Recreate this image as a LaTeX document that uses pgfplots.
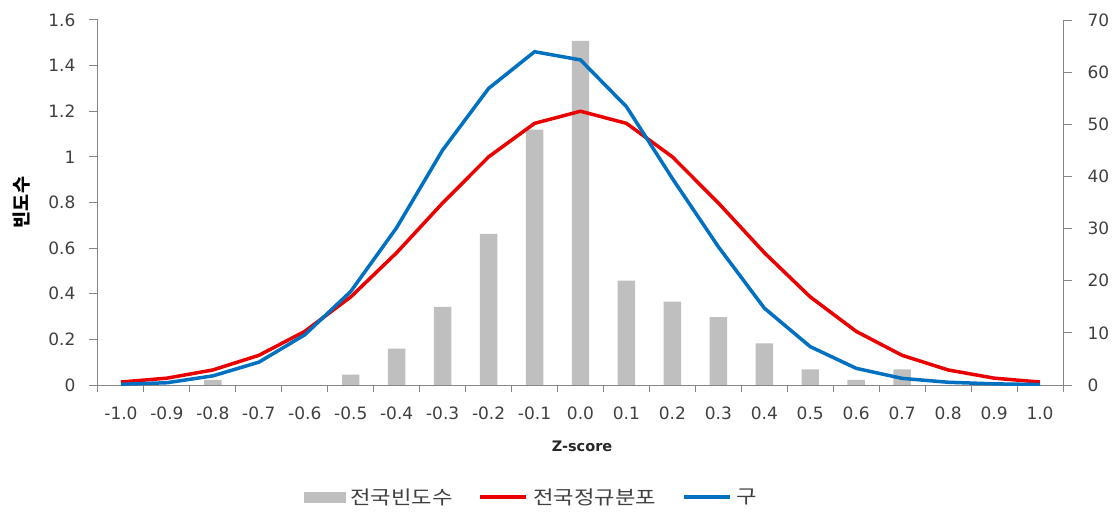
\documentclass[border=0pt]{standalone}
\usepackage{fontspec}
\setmainfont{DejaVu Sans}
\newfontfamily\kr{Noto Sans CJK KR}
\newfontfamily\krw[FakeStretch=1.17]{Noto Sans CJK KR}
\usepackage{pgfplots}
\pgfplotsset{compat=1.18}
\definecolor{barGray}{RGB}{191,191,191}
\definecolor{lineRed}{RGB}{235,0,0}
\definecolor{lineBlue}{RGB}{0,112,192}
\definecolor{axisGray}{RGB}{134,134,134}
\definecolor{txtGray}{RGB}{64,64,64}
\begin{document}
\begin{tikzpicture}
\path[use as bounding box] (-98pt,-132pt) rectangle (1019pt,385pt);
\pgfplotsset{
  common/.style={
    scale only axis, width=965pt, height=365pt,
    xmin=-0.5, xmax=20.5, enlargelimits=false,
    /pgf/number format/assume math mode=true,
    tick align=outside, major tick length=9pt,
    axis line style={draw=axisGray, line width=1pt, -},
    tick style={draw=axisGray, line width=1pt},
    ticklabel style={font=\fontsize{17}{20}\selectfont, text=txtGray},
  }
}
% bars: right axis (counts)
\begin{axis}[common,
  axis y line*=right, axis x line=none,
  ymin=0, ymax=70, ytick={0,10,...,70},
  yticklabel style={xshift=12pt},
]
\addplot[ybar, bar width=0.38, fill=barGray, draw=none] coordinates {
(0,0) (1,0) (2,1) (3,0) (4,0) (5,2) (6,7) (7,15) (8,29) (9,49) (10,66)
(11,20) (12,16) (13,13) (14,8) (15,3) (16,1) (17,3) (18,0) (19,0) (20,0)};
\end{axis}
% lines: left axis (density)
\begin{axis}[common,
  axis y line*=left, axis x line*=bottom,
  ymin=0, ymax=1.6, ytick={0,0.2,...,1.6},
  yticklabels={0,0.2,0.4,0.6,0.8,1,1.2,1.4,1.6},
  yticklabel style={xshift=-10pt},
  xtick={0,...,20},
  xticklabels={-1.0,-0.9,-0.8,-0.7,-0.6,-0.5,-0.4,-0.3,-0.2,-0.1,0.0,0.1,0.2,0.3,0.4,0.5,0.6,0.7,0.8,0.9,1.0},
  xtick style={draw=none},
  xticklabel style={yshift=-9pt},
  extra x ticks={-0.5,0.5,...,20.5},
  extra x tick labels={},
  extra x tick style={xtick style={draw=axisGray, line width=1pt}, major tick length=7pt},
  xlabel={\bfseries Z-score},
  xlabel style={at={(axis description cs:0.5016,-0.167)}, anchor=center, font=\fontsize{14.5}{17}\selectfont, text=txtGray!60!black},
  ylabel={\kr\bfseries 빈도수},
  ylabel style={at={(axis description cs:-0.0788,0.5)}, anchor=center, font=\fontsize{18.5}{21}\selectfont, text=black},
  legend image code/.code={\draw[#1] (0pt,0pt) -- (46pt,0pt);},
  legend columns=-1,
  legend style={at={(axis description cs:0.4487,-0.3068)}, anchor=center, draw=none, fill=none,
    font=\krw\fontsize{19}{22}\selectfont, text=txtGray,
    nodes={inner sep=1pt},
    /tikz/every odd column/.append style={column sep=4pt},
    /tikz/every even column/.append style={column sep=25pt}},
]
\addlegendimage{legend image code/.code={\fill[barGray] (0pt,-5pt) rectangle (41pt,5pt);}}
\addlegendentry{전국빈도수}
\addplot[lineRed, line width=3.5pt] coordinates {
(0,0.013) (1,0.030) (2,0.066) (3,0.130) (4,0.235) (5,0.386) (6,0.580) (7,0.798) (8,1.000) (9,1.147) (10,1.200)
(11,1.147) (12,1.000) (13,0.798) (14,0.580) (15,0.386) (16,0.235) (17,0.130) (18,0.066) (19,0.030) (20,0.013)};
\addlegendentry{전국정규분포}
\addplot[lineBlue, line width=3.5pt] coordinates {
(0,0.003) (1,0.010) (2,0.040) (3,0.100) (4,0.220) (5,0.410) (6,0.690) (7,1.030) (8,1.300) (9,1.461) (10,1.425)
(11,1.220) (12,0.905) (13,0.606) (14,0.337) (15,0.168) (16,0.073) (17,0.029) (18,0.012) (19,0.005) (20,0.002)};
\addlegendentry{구}
\end{axis}
\end{tikzpicture}
\end{document}
